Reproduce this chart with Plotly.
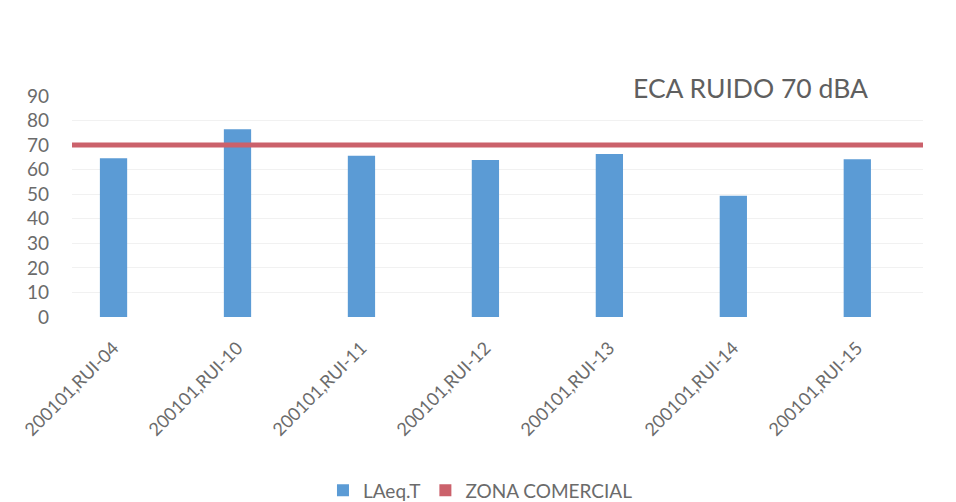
import plotly.graph_objects as go

categories = ["200101,RUI-04", "200101,RUI-10", "200101,RUI-11", "200101,RUI-12",
              "200101,RUI-13", "200101,RUI-14", "200101,RUI-15"]
laeq_values = [64.6, 76.5, 65.7, 63.9, 66.4, 49.4, 64.2]
eca_limit = 70
y_ticks = [0, 10, 20, 30, 40, 50, 60, 70, 80, 90]

bar_color = "#5B9BD5"
line_color = "#CB616B"
text_color = "#6b6b6b"
font_family = "Lato, 'Open Sans', sans-serif"

fig = go.Figure()
fig.add_trace(go.Bar(
    x=categories, y=laeq_values, name="LAeq.T",
    marker=dict(color=bar_color, line=dict(width=0)), width=0.22,
))
# legend entry for the limit line (drawn as a shape across the plot area)
fig.add_trace(go.Bar(
    x=[categories[0]], y=[None], name="ZONA COMERCIAL",
    marker=dict(color=line_color, line=dict(width=0)),
))
fig.add_shape(type="line", xref="paper", x0=0, x1=1, yref="y", y0=eca_limit, y1=eca_limit,
              line=dict(color=line_color, width=5), layer="above")

fig.add_annotation(text="ECA RUIDO 70 dBA", xref="paper", yref="paper",
                   x=0.797, y=1.036, xanchor="center", yanchor="middle", showarrow=False,
                   font=dict(size=26.5, color="#5f5f5f", family=font_family))

fig.update_layout(
    width=956, height=502,
    margin=dict(l=72, r=33, t=96, b=185, autoexpand=False),
    paper_bgcolor="white", plot_bgcolor="white",
    font=dict(family=font_family, color=text_color),
    barmode="overlay",
    showlegend=True,
    legend=dict(orientation="h", x=0.48, xanchor="center", y=-0.785, yanchor="middle",
                font=dict(size=19, color=text_color), traceorder="normal",
                itemwidth=30),
)
fig.update_xaxes(
    range=[-0.335, 6.53], tickangle=-45, showgrid=False, showline=False, ticks="",
    tickfont=dict(size=18, color=text_color), automargin=False, ticklabelstandoff=16,
)
fig.update_yaxes(
    range=[0, 90], tickvals=y_ticks, showgrid=True, gridcolor="#f1f1f1", gridwidth=1,
    zeroline=False, showline=False, ticks="", ticklabelstandoff=22, automargin=False,
    tickfont=dict(size=19, color=text_color),
)

fig.write_html("out.html", config={"displayModeBar": False},
               post_script="document.body.style.margin='0px';")
